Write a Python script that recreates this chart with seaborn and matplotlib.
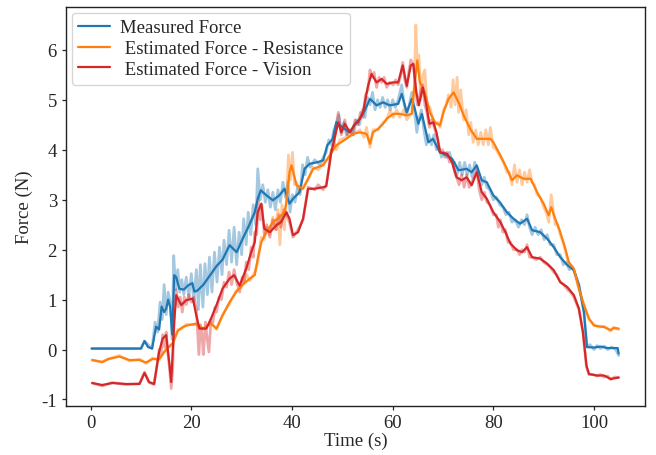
import numpy as np
import pandas as pd
import matplotlib
matplotlib.use("Agg")
import matplotlib.pyplot as plt
import seaborn as sns

# ---- smoothed curves ----
meas_t = [0.2, 10.0, 10.7, 11.4, 12.2, 13.0, 13.6, 14.1, 14.6, 15.0, 15.4, 15.8, 16.2, 16.6, 17.0,
          17.6, 18.5, 19.3, 20.2, 20.6, 21.2, 22.4, 23.6, 25.0, 26.2, 27.6, 29.0, 30.2, 31.5, 32.6,
          33.2, 33.8, 34.9, 36.2, 37.5, 38.5, 39.5, 40.2, 41.5, 42.5, 43.5, 45.0, 46.2, 47.0, 48.1,
          48.8, 50.0, 51.5, 52.8, 53.5, 54.5, 55.5, 56.8, 58.1, 59.4, 61.1, 61.8, 62.8, 63.8, 64.4,
          65.1, 65.8, 67.1, 68.0, 69.4, 70.8, 71.8, 73.1, 74.7, 75.7, 76.7, 77.7, 78.7, 80.0, 81.3,
          82.7, 84.0, 85.3, 86.7, 87.7, 89.3, 90.7, 92.0, 93.3, 94.7, 96.0, 97.0, 98.0, 98.6, 100.0,
          101.3, 102.7, 104.7, 104.9]
meas_f = [0.02, 0.02, 0.17, 0.05, 0.02, 0.46, 0.40, 0.86, 0.75, 0.82, 1.00, 0.85, 0.30, 1.49, 1.45,
          1.22, 1.20, 1.28, 1.33, 1.16, 1.18, 1.30, 1.47, 1.67, 1.80, 2.09, 1.95, 2.22, 2.49, 2.75,
          3.02, 3.19, 3.09, 2.99, 3.09, 3.22, 2.92, 3.02, 3.15, 3.62, 3.72, 3.75, 3.79, 4.09, 4.22,
          4.55, 4.45, 4.35, 4.55, 4.62, 4.80, 5.02, 4.89, 4.95, 4.89, 4.92, 5.12, 4.75, 5.02, 4.82,
          4.52, 4.72, 4.15, 4.22, 3.95, 3.89, 3.82, 3.59, 3.62, 3.55, 3.69, 3.39, 3.35, 3.09, 2.95,
          2.75, 2.62, 2.52, 2.62, 2.39, 2.35, 2.22, 2.05, 1.85, 1.69, 1.59, 1.29, 0.75, 0.05, 0.04,
          0.06, 0.03, 0.03, -0.08]

res_t = [0.3, 2.3, 3.5, 5.7, 7.7, 9.7, 11.0, 12.3, 13.6, 15.0, 16.3, 17.3, 18.3, 19.0, 21.0,
         22.3, 23.9, 25.0, 26.2, 27.6, 28.9, 30.0, 31.6, 32.6, 33.2, 33.9, 34.9, 36.2, 37.5, 38.5,
         38.9, 39.5, 39.9, 40.9, 42.2, 43.2, 44.2, 46.2, 47.5, 48.8, 50.8, 52.1, 53.5, 54.8, 55.5,
         56.1, 57.1, 58.1, 58.8, 60.1, 61.4, 62.8, 63.8, 64.4, 64.9, 65.4, 66.4, 67.4, 68.4, 69.4,
         70.1, 71.1, 72.1, 73.1, 74.1, 75.4, 76.7, 78.0, 79.4, 80.0, 81.4, 82.7, 83.7, 84.7, 86.0,
         87.4, 88.7, 90.0, 91.0, 91.5, 92.3, 93.3, 94.3, 95.0, 96.0, 97.0, 98.0, 99.0, 100.0, 102.0,
         103.3, 103.9, 104.9]
res_f = [-0.21, -0.25, -0.19, -0.14, -0.21, -0.21, -0.26, -0.19, -0.19, 0.00, 0.13, 0.37, 0.45, 0.48, 0.52,
         0.42, 0.52, 0.42, 0.68, 0.95, 1.15, 1.28, 1.42, 1.49, 1.82, 2.15, 2.35, 2.55, 2.65, 2.75,
         2.95, 3.55, 3.69, 3.29, 3.22, 3.42, 3.62, 3.69, 3.89, 4.09, 4.22, 4.32, 4.35, 4.32, 4.12,
         4.35, 4.42, 4.52, 4.62, 4.72, 4.72, 4.69, 4.72, 5.35, 5.79, 5.35, 5.15, 4.75, 4.55, 4.49,
         4.75, 5.02, 5.15, 4.95, 4.69, 4.42, 4.22, 4.22, 4.22, 4.15, 3.89, 3.62, 3.39, 3.49, 3.42,
         3.42, 3.15, 2.92, 2.69, 2.85, 2.62, 2.35, 2.02, 1.75, 1.62, 1.22, 0.89, 0.62, 0.48, 0.45,
         0.39, 0.43, 0.42]

vis_t = [0.3, 2.3, 4.3, 7.0, 9.7, 10.7, 11.6, 12.6, 13.6, 14.3, 15.0, 15.6, 16.0, 16.6, 17.0,
         18.0, 19.0, 20.3, 21.0, 21.6, 23.0, 23.9, 25.0, 26.2, 27.6, 28.5, 29.6, 30.9, 31.9, 32.6,
         33.2, 33.9, 34.5, 35.6, 36.9, 37.8, 38.9, 39.5, 40.2, 41.2, 42.2, 43.2, 44.5, 46.2, 46.8,
         47.8, 49.2, 49.8, 50.5, 51.5, 52.5, 53.1, 54.1, 55.1, 55.8, 56.8, 57.8, 58.8, 60.1, 61.1,
         62.0, 62.8, 63.6, 64.1, 64.7, 65.2, 66.0, 66.6, 67.3, 68.1, 68.7, 69.4, 70.8, 71.8, 72.7,
         73.7, 74.7, 75.7, 76.7, 77.7, 78.7, 80.0, 81.4, 82.4, 83.4, 84.7, 85.7, 86.7, 87.7, 89.3,
         90.7, 92.0, 93.3, 94.7, 96.0, 97.0, 97.8, 98.5, 99.0, 100.6, 102.0, 103.3, 104.9]
vis_f = [-0.67, -0.71, -0.67, -0.69, -0.69, -0.47, -0.65, -0.69, -0.05, 0.22, 0.29, -0.25, -0.65, 0.55, 1.09,
         0.89, 0.99, 1.02, 0.68, 0.42, 0.42, 0.62, 0.89, 1.22, 1.42, 1.49, 1.28, 1.62, 1.95, 2.15,
         2.75, 2.92, 2.42, 2.35, 2.49, 2.55, 2.75, 2.62, 2.29, 2.35, 2.62, 3.22, 3.22, 3.25, 3.27,
         3.95, 4.55, 4.35, 4.52, 4.35, 4.52, 4.55, 4.75, 5.28, 5.52, 5.35, 5.42, 5.32, 5.35, 5.35,
         5.69, 5.28, 5.69, 5.72, 5.15, 4.89, 5.25, 4.95, 4.52, 4.55, 4.35, 3.95, 3.92, 3.75, 3.45,
         3.39, 3.45, 3.29, 3.55, 3.15, 3.02, 2.75, 2.55, 2.35, 2.12, 1.99, 1.95, 2.05, 1.85, 1.82,
         1.72, 1.59, 1.35, 1.25, 1.09, 0.82, 0.35, -0.32, -0.49, -0.52, -0.52, -0.59, -0.56]

# ---- raw (noisy) signals, drawn faint behind ----
meas_raw_t = [0.2, 10.0, 10.7, 12.2, 12.8, 13.3, 13.8, 14.2, 14.6, 15.0, 15.4, 15.9, 16.2, 16.5, 16.9,
              17.3, 17.7, 18.1, 18.5, 19.0, 19.5, 20.0, 20.5, 21.0, 21.4, 21.8, 22.3, 22.7, 23.2, 23.6,
              24.1, 24.6, 25.1, 25.6, 26.1, 26.5, 27.0, 27.5, 28.0, 28.5, 29.0, 29.5, 30.0, 30.4, 30.9,
              31.3, 31.8, 32.3, 32.8, 33.2, 33.7, 34.2, 34.7, 35.2, 35.7, 36.2, 36.7, 37.2, 37.7, 38.2,
              38.7, 39.2, 39.6, 40.1, 40.6, 41.1, 41.6, 42.1, 42.6, 43.1, 43.6, 44.5, 45.5, 46.2, 46.8,
              47.3, 47.8, 48.3, 48.8, 49.3, 49.8, 50.3, 50.8, 51.5, 52.2, 52.8, 53.4, 54.0, 54.5, 55.0,
              55.5, 56.0, 56.5, 57.0, 57.5, 58.0, 58.5, 59.0, 59.5, 60.0, 60.5, 61.1, 61.8, 62.3, 62.8,
              63.3, 63.8, 64.3, 64.8, 65.2, 65.7, 66.2, 66.7, 67.2, 67.7, 68.2, 68.7, 69.2, 69.7, 70.2,
              70.8, 71.3, 71.8, 72.3, 72.8, 73.3, 73.8, 74.3, 74.8, 75.3, 75.8, 76.3, 76.7, 77.2, 77.7,
              78.2, 78.7, 79.3, 80.0, 80.6, 81.3, 81.9, 82.5, 83.1, 83.7, 84.3, 85.0, 85.6, 86.2, 86.7,
              87.2, 87.7, 88.3, 88.9, 89.5, 90.1, 90.7, 91.3, 92.0, 92.6, 93.3, 93.9, 94.5, 95.1, 95.7,
              96.3, 97.0, 98.0, 98.6, 99.2, 100.0, 100.6, 101.3, 102.0, 102.7, 103.5, 104.3, 104.9]
meas_raw_f = [0.02, 0.02, 0.17, 0.02, 0.55, 0.35, 0.95, 0.60, 1.30, 0.70, 1.15, 0.90, 0.20, 1.88, 1.20,
              1.60, 1.15, 1.40, 1.10, 1.45, 1.05, 1.52, 0.95, 1.60, 0.80, 1.70, 0.85, 1.72, 1.10, 1.85,
              1.15, 1.95, 1.35, 2.05, 1.50, 2.19, 1.70, 2.39, 1.75, 2.45, 1.70, 2.35, 1.90, 2.62, 2.10,
              2.75, 2.30, 2.90, 2.50, 3.62, 3.00, 3.30, 2.95, 3.20, 2.85, 3.15, 2.80, 3.20, 2.95, 3.35,
              3.05, 3.35, 2.75, 3.10, 2.95, 3.25, 3.10, 3.70, 3.50, 3.85, 3.65, 3.80, 3.70, 3.85, 3.95,
              4.20, 4.10, 4.40, 4.50, 4.70, 4.35, 4.55, 4.30, 4.40, 4.30, 4.60, 4.50, 4.80, 4.65, 5.05,
              4.90, 5.15, 4.80, 5.00, 4.85, 5.05, 4.85, 5.00, 4.80, 5.00, 4.85, 5.00, 5.30, 4.90, 4.70,
              4.90, 5.15, 4.80, 4.35, 4.60, 4.80, 4.40, 4.10, 4.30, 4.10, 4.30, 4.00, 4.05, 3.85, 3.95,
              3.85, 3.95, 3.75, 3.75, 3.50, 3.75, 3.50, 3.75, 3.50, 3.70, 3.45, 3.75, 3.60, 3.45, 3.30,
              3.45, 3.25, 3.20, 3.00, 3.05, 2.90, 2.85, 2.70, 2.75, 2.55, 2.60, 2.45, 2.60, 2.50, 2.70,
              2.45, 2.30, 2.45, 2.30, 2.40, 2.20, 2.30, 2.10, 2.10, 1.90, 1.90, 1.70, 1.75, 1.60, 1.65,
              1.50, 1.30, 0.75, 0.05, 0.10, 0.00, 0.08, 0.02, 0.07, 0.00, 0.05, 0.00, -0.12]

res_raw_t = [0.3, 2.3, 3.5, 5.7, 7.7, 9.7, 11.0, 12.3, 13.6, 15.0, 16.3, 17.3, 18.3, 19.0, 21.0,
             22.3, 23.9, 25.0, 26.2, 27.6, 28.9, 30.0, 31.0, 31.6, 32.6, 33.2, 33.9, 34.5, 34.9, 35.5,
             36.2, 36.7, 37.2, 37.6, 38.0, 38.5, 38.9, 39.3, 39.7, 40.1, 40.5, 40.9, 41.5, 42.2, 43.2,
             44.2, 45.2, 46.2, 47.5, 48.3, 48.8, 49.5, 50.8, 52.1, 53.5, 54.3, 54.8, 55.5, 56.1, 57.1,
             58.1, 58.8, 59.5, 60.1, 60.8, 61.4, 62.2, 62.8, 63.8, 64.3, 64.6, 64.9, 65.2, 65.6, 66.0,
             66.4, 66.8, 67.4, 68.0, 68.4, 69.0, 69.4, 70.1, 70.6, 71.1, 71.6, 72.0, 72.4, 72.8, 73.1,
             73.5, 74.1, 74.6, 75.1, 75.5, 76.0, 76.5, 77.0, 77.5, 78.0, 78.5, 79.0, 79.4, 80.0, 80.6,
             81.4, 82.0, 82.7, 83.2, 83.7, 84.2, 84.7, 85.2, 85.7, 86.2, 86.7, 87.2, 87.7, 88.2, 88.7,
             89.3, 90.0, 90.5, 91.0, 91.5, 92.0, 92.3, 92.8, 93.3, 94.0, 94.5, 95.0, 96.0, 97.0, 98.0,
             99.0, 100.0, 101.0, 102.0, 103.3, 103.9, 104.9]
res_raw_f = [-0.21, -0.25, -0.19, -0.12, -0.23, -0.19, -0.28, -0.17, -0.21, 0.02, 0.10, 0.40, 0.43, 0.50, 0.50,
             0.40, 0.55, 0.40, 0.70, 0.92, 1.18, 1.25, 1.50, 1.38, 1.55, 1.75, 2.25, 2.20, 2.45, 2.30,
             2.65, 2.40, 2.80, 2.10, 2.90, 2.40, 3.00, 3.90, 3.40, 3.95, 3.30, 3.35, 3.15, 3.25, 3.40,
             3.65, 3.60, 3.75, 3.85, 4.15, 4.00, 4.20, 4.25, 4.30, 4.40, 4.25, 4.45, 4.05, 4.40, 4.40,
             4.55, 4.60, 4.80, 4.65, 4.80, 4.65, 4.80, 4.60, 4.75, 5.30, 6.50, 5.60, 5.90, 5.00, 5.50,
             5.60, 4.90, 4.85, 4.60, 4.50, 4.55, 4.45, 4.80, 4.90, 5.10, 4.85, 5.40, 4.90, 5.45, 4.75,
             5.20, 4.60, 4.80, 4.30, 4.55, 4.15, 4.40, 4.10, 4.35, 4.10, 4.40, 4.10, 4.45, 4.05, 4.00,
             3.85, 3.75, 3.55, 3.55, 3.30, 3.70, 3.35, 3.60, 3.30, 3.55, 3.35, 3.60, 3.35, 3.30, 3.10,
             3.05, 2.85, 2.75, 2.55, 3.10, 2.70, 2.50, 2.50, 2.30, 2.10, 1.90, 1.70, 1.60, 1.20, 0.90,
             0.60, 0.50, 0.45, 0.47, 0.37, 0.45, 0.40]

vis_raw_t = [0.3, 2.3, 4.3, 7.0, 9.7, 10.7, 11.6, 12.6, 13.2, 13.6, 14.0, 14.3, 14.7, 15.0, 15.3,
             15.6, 16.0, 16.3, 16.6, 17.0, 17.4, 17.8, 18.2, 18.6, 19.0, 19.5, 20.0, 20.5, 21.0, 21.2,
             21.5, 21.8, 22.1, 22.4, 22.8, 23.1, 23.5, 23.9, 24.3, 24.7, 25.0, 25.5, 26.0, 26.5, 27.0,
             27.5, 28.0, 28.5, 29.0, 29.6, 30.1, 30.5, 30.9, 31.4, 31.9, 32.3, 32.6, 33.0, 33.3, 33.7,
             34.0, 34.5, 35.0, 35.6, 36.2, 36.9, 37.4, 37.8, 38.4, 38.9, 39.5, 40.2, 41.2, 42.2, 43.2,
             44.5, 45.2, 46.2, 46.8, 47.3, 47.8, 48.3, 48.7, 49.2, 49.8, 50.5, 51.0, 51.5, 52.0, 52.5,
             53.1, 53.6, 54.1, 54.6, 55.1, 55.5, 55.8, 56.3, 56.8, 57.3, 57.8, 58.3, 58.8, 59.4, 60.1,
             60.6, 61.1, 61.6, 62.0, 62.4, 62.8, 63.2, 63.6, 64.1, 64.5, 64.9, 65.2, 65.6, 66.0, 66.4,
             66.8, 67.3, 67.7, 68.1, 68.7, 69.0, 69.4, 69.9, 70.4, 70.8, 71.3, 71.8, 72.3, 72.7, 73.2,
             73.7, 74.2, 74.7, 75.2, 75.7, 76.2, 76.7, 77.2, 77.7, 78.2, 78.7, 79.3, 80.0, 80.6, 81.0,
             81.4, 81.9, 82.4, 82.9, 83.4, 84.0, 84.7, 85.2, 85.7, 86.2, 86.7, 87.2, 87.7, 88.5, 89.3,
             90.0, 90.7, 91.3, 92.0, 92.6, 93.3, 94.0, 94.7, 95.3, 96.0, 97.0, 97.8, 98.5, 99.0, 99.8,
             100.6, 101.3, 102.0, 102.7, 103.3, 104.1, 104.9]
vis_raw_f = [-0.67, -0.73, -0.66, -0.70, -0.68, -0.45, -0.66, -0.70, -0.30, 0.00, -0.10, 0.30, 0.05, 0.35, -0.05,
             -0.30, -0.78, -0.40, 0.70, 1.20, 0.85, 1.05, 0.75, 1.05, 0.90, 1.10, 0.95, 1.05, 0.80, 0.45,
             -0.10, 0.50, 0.30, -0.10, 0.55, 0.25, -0.05, 0.60, 0.55, 0.85, 0.75, 1.05, 1.00, 1.35, 1.25,
             1.55, 1.30, 1.60, 1.35, 1.15, 1.45, 1.35, 1.75, 1.60, 2.05, 1.85, 2.35, 2.30, 3.05, 2.60,
             2.90, 2.30, 2.50, 2.25, 2.60, 2.40, 2.70, 2.45, 2.80, 2.70, 2.55, 2.25, 2.40, 2.60, 3.25,
             3.20, 3.30, 3.20, 3.30, 3.60, 4.00, 4.05, 4.45, 4.75, 4.30, 4.60, 4.30, 4.40, 4.30, 4.60,
             4.50, 4.75, 4.65, 5.10, 5.20, 5.60, 5.45, 5.55, 5.25, 5.45, 5.35, 5.45, 5.25, 5.35, 5.30,
             5.40, 5.30, 5.50, 5.75, 5.40, 5.25, 5.55, 5.80, 5.70, 5.30, 4.90, 5.00, 5.20, 5.30, 4.90,
             4.75, 4.45, 4.60, 4.50, 4.30, 4.20, 3.95, 4.00, 3.85, 3.95, 3.75, 3.80, 3.55, 3.45, 3.30,
             3.50, 3.25, 3.50, 3.25, 3.35, 3.45, 3.60, 3.20, 3.00, 3.15, 2.95, 2.90, 2.70, 2.70, 2.45,
             2.60, 2.35, 2.40, 2.15, 2.15, 2.00, 2.00, 1.90, 2.00, 1.95, 2.10, 1.85, 1.85, 1.80, 1.85,
             1.75, 1.70, 1.65, 1.55, 1.50, 1.35, 1.30, 1.20, 1.15, 1.05, 0.80, 0.35, -0.35, -0.50, -0.50,
             -0.53, -0.50, -0.55, -0.53, -0.60, -0.55, -0.56]

labels = ["Measured Force", " Estimated Force - Resistance", " Estimated Force - Vision"]
colors = ["#1f77b4", "#ff7f0e", "#d62728"]

sns.set_theme(style="ticks")
plt.rcParams['font.family'] = ['Liberation Serif', 'DejaVu Serif']
plt.rcParams['axes.unicode_minus'] = False
plt.rcParams['font.size'] = 13.5
plt.rcParams['axes.labelsize'] = 13.5
plt.rcParams['xtick.labelsize'] = 13.5
plt.rcParams['ytick.labelsize'] = 13.5
plt.rcParams['legend.fontsize'] = 13.5
plt.rcParams['axes.edgecolor'] = '#222222'
plt.rcParams['axes.linewidth'] = 1.0
plt.rcParams['xtick.major.size'] = 3.0
plt.rcParams['ytick.major.size'] = 3.0
plt.rcParams['xtick.major.width'] = 0.9
plt.rcParams['ytick.major.width'] = 0.9
plt.rcParams['xtick.major.pad'] = 3.0
plt.rcParams['ytick.major.pad'] = 3.5

fig = plt.figure(figsize=(6.56, 4.56), dpi=100)
ax = fig.add_axes([0.1006, 0.1075, 0.8824, 0.875])

raw = [(meas_raw_t, meas_raw_f), (res_raw_t, res_raw_f), (vis_raw_t, vis_raw_f)]
smooth = [(meas_t, meas_f), (res_t, res_f), (vis_t, vis_f)]

# faint raw signals first
for (t, f), c in zip(raw, colors):
    df = pd.DataFrame({'t': t, 'f': f})
    sns.lineplot(data=df, x='t', y='f', ax=ax, color=c, alpha=0.4, lw=2.0,
                 estimator=None, sort=False, legend=False)

# smoothed curves on top
for (t, f), c, lab in zip(smooth, colors, labels):
    df = pd.DataFrame({'t': t, 'f': f})
    sns.lineplot(data=df, x='t', y='f', ax=ax, color=c, lw=1.6, label=lab,
                 estimator=None, sort=False)

ax.set_xlim(-4.9, 110.1)
ax.set_ylim(-1.13, 6.86)
ax.set_xticks([0, 20, 40, 60, 80, 100])
ax.set_yticks([-1, 0, 1, 2, 3, 4, 5, 6])
ax.set_xlabel('Time (s)', labelpad=0)
ax.set_ylabel('Force (N)', labelpad=6)
ax.legend(loc='upper left', handlelength=1.7, handletextpad=0.55, borderaxespad=0.3,
          borderpad=0.35, labelspacing=0.2, fancybox=True, framealpha=0.8)

fig.savefig('out.png', dpi=100)
